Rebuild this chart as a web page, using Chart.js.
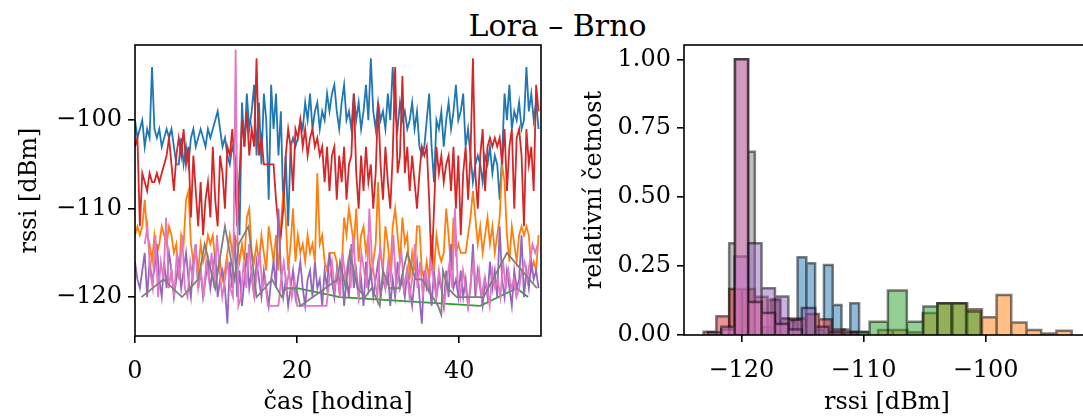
<!DOCTYPE html>
<html>
<head>
<meta charset="utf-8">
<script src="https://cdn.jsdelivr.net/npm/chart.js@4.4.0/dist/chart.umd.min.js"></script>
<style>
  html, body { margin: 0; padding: 0; background: #fff; overflow: hidden; }
  #wrap { position: relative; width: 1083px; height: 418px; overflow: hidden; }
  #title { position: absolute; left: 0; width: 1115px; top: 8px; text-align: center;
           font-family: 'DejaVu Serif', serif; font-size: 30px; color: #000; }
  canvas { position: absolute; top: 0; }
  #timeChart { left: 0; }
  #histChart { left: 570px; }
</style>
</head>
<body>
<div id="wrap">
  <div id="title">Lora – Brno</div>
  <canvas id="timeChart" width="570" height="418"></canvas>
  <canvas id="histChart" width="540" height="418"></canvas>
</div>
<script>
// time series, sampled every STEP hours
const STEP = 0.3;
const blueRssi = [
  -100,-102,-101,-100,-103,-101,-102,-94,-101,-102,-101,-103,-102,-101,-102,-101,-103,
  -105,-105,-102,-105,-103,-105,-102,-101,-103,-102,-101,-102,-103,-101,-102,-101,
  -100,-99,-101,-103,-102,-104,-105,-103,-104,-106,-113,-98,-103,-97,-101,-99,-96,-104,
  -98,-105,-97,-100,-109,-96,-101,-97,-104,-99,-110,-104,-112,-103,-102,-103,-102,-100,-101,-98,
  -100,-97,-101,-99,-98,-101,-99,-100,-97,-99,-97,-96,-99,-101,-98,-96,-100,-99,-101,-97,
  -100,-98,-101,-99,-96,-100,-93,-99,-101,-98,-100,-99,-101,-97,-100,-94,-99,-101,-98,-100,
  -99,-101,-100,-98,-101,-99,-103,-104,-103,-100,-97,-103,-107,-100,-101,-99,-103,-100,-98,-101,
  -99,-96,-100,-99,-97,-103,-101,-104,-107,-105,-104,-105,-107,-104,-105,-103,-106,-104,-105,-109,
  -104,-97,-100,-96,-101,-99,-100,-98,-101,-100,-94,-99,-97,-100,-98,-101
];
const orangeRssi = [
  -113,-112,-113,-112,-109,-113,-114,-116,-113,-115,-114,-112,-113,-114,-112,-113,-115,-114,-118,-113,
  -114,-109,-108,-114,-116,-115,-117,-114,-116,-115,-113,-114,-113,-116,-117,-116,-118,-117,-115,-113,
  -115,-113,-114,-116,-114,-116,-111,-110,-115,-116,-114,-116,-113,-115,-117,-112,-114,-116,-113,-117,
  -112,-108,-111,-117,-114,-110,-116,-113,-115,-114,-116,-113,-115,-114,-116,-106,-114,-113,-116,-117,
  -115,-115,-115,-116,-119,-117,-111,-113,-110,-112,-114,-110,-116,-113,-112,-115,-113,-118,-116,-114,
  -107,-115,-117,-112,-114,-117,-112,-110,-113,-116,-111,-114,-113,-118,-115,-117,-112,-112,-117,-118,
  -116,-118,-113,-117,-113,-115,-116,-115,-110,-113,-117,-111,-115,-114,-115,-115,-115,-113,-111,-108,
  -111,-114,-112,-115,-113,-111,-114,-112,-115,-113,-111,-105,-107,-113,-116,-112,-114,-116,-113,-112,
  -113,-112,-113,-117,-116,-117,-113
];
const redRssi = [
  -103,-102,-112,-106,-107,-108,-106,-107,-107,-106,-107,-106,-105,-104,-102,-105,-108,-104,-102,-104,
  -101,-105,-103,-111,-104,-108,-112,-107,-113,-109,-107,-111,-103,-109,-112,-104,-106,-110,-103,-104,
  -101,-105,-112,-106,-100,-103,-99,-104,-101,-103,-93,-104,-102,-105,-105,-105,-105,-105,-109,-112,
  -113,-110,-104,-101,-103,-108,-101,-102,-100,-103,-101,-104,-102,-101,-103,-102,-104,-103,-107,-103,
  -108,-104,-103,-109,-104,-107,-103,-109,-105,-104,-97,-106,-110,-104,-108,-103,-107,-105,-110,-106,
  -98,-105,-109,-103,-107,-110,-104,-94,-106,-104,-95,-106,-103,-108,-104,-107,-110,-106,-103,-104,
  -103,-109,-117,-110,-103,-106,-104,-107,-105,-104,-108,-103,-110,-104,-113,-106,-103,-109,-104,-93,
  -106,-110,-104,-101,-108,-103,-102,-103,-102,-103,-102,-105,-101,-108,-103,-101,-110,-102,-101,-104,
  -112,-101,-105,-103,-108,-96,-99
];
const purpleRssi = [
  -116,-118,-119,-117,-115,-120,-116,-118,-117,-114,-118,-120,-116,-119,-115,-117,-120,-118,-116,-119,
  -117,-115,-118,-120,-116,-114,-119,-117,-120,-118,-116,-119,-117,-115,-120,-118,-117,-119,-123,-116,
  -119,-113,-120,-117,-121,-118,-115,-119,-117,-120,-116,-118,-120,-117,-119,-121,-118,-116,-119,-110,
  -117,-120,-118,-121,-119,-117,-120,-118,-116,-119,-121,-118,-117,-120,-116,-119,-118,-121,-117,-119,
  -115,-118,-120,-117,-119,-116,-121,-118,-120,-114,-119,-117,-120,-118,-121,-116,-119,-117,-120,-118,
  -116,-120,-118,-119,-117,-121,-118,-120,-116,-119,-118,-120,-117,-119,-121,-118,-116,-120,-123,-117,
  -119,-118,-121,-117,-120,-118,-119,-121,-117,-120,-114,-119,-118,-120,-117,-120,-118,-121,-119,-114,
  -120,-117,-119,-121,-118,-120,-116,-119,-117,-120,-112,-118,-120,-117,-119,-121,-117,-119,-118,-113,
  -120,-117,-119,-116,-118,-117,-119
];
// pink starts at 1.2 h, sampled every 0.33 h
const PINK_START = 1.2, PINK_STEP = 0.33;
const pinkRssi = [
  -114,-112,-117,-119,-113,-120,-116,-118,-111,-119,-117,-120,-115,-118,-113,-119,-120,-116,-118,-114,
  -119,-117,-120,-116,-118,-115,-119,-113,-117,-120,-118,-116,-119,-120,-92,-121,
  -120,-116,-119,-114,-118,-120,-117,-115,-119,-118,-121,-121,-121,-121,-121,-118,-116,-119,-117,-120,
  -118,-121,-121,-121,-121,-121,-121,-121,-121,-121,-121,-121,-121,-118,-116,-119,-117,-120,-115,-118,
  -116,-119,-113,-118,-120,-115,-117,-119,-110,-116,-118,-120,-114,-117,-119,-116,-118,-113,-119,-117,
  -115,-119,-117,-120,-118,-114,-119,-116,-120,-117,-119,-116,-118,-120,-117,-119,-121,-118,-116,-119,
  -110,-118,-120,-117,-119,-121,-118,-116,-119,-117,-120,-118,-119,-121,-117,-119,-118,-120,-116,-119,
  -117,-119,-118,-120,-119,-117,-116,-118,-116,-114,-115,-114
];
const grayTime = [0.8,3.5,5.8,7.8,8.6,9.9,11.1,12.3,12.8,14.0,15.0,16.0,16.9,18.1,18.6,19.9,20.4,25.0,25.3,26.0,
  26.5,27.5,28.4,29.2,30.2,30.6,31.4,32.6,33.6,34.6,35.4,37.4,37.8,38.0,38.6,39.7,43.0,45.9,49.6];
const grayRssi = [-120,-118,-120,-118,-114,-119,-112,-118,-114,-112,-120,-119,-118,-120,-119,-119,-121,-118,-116,-119,
  -115,-119,-120,-119,-121,-117,-119,-119,-115,-118,-118,-121,-122,-117,-119,-120,-120,-115,-119];
const greenTime = [20.0, 25.3, 42.6, 47.1, 48.5];
const greenRssi = [-119, -120, -121, -119, -120];

// histograms: bin edges [dBm] and relative heights
const blueEdges = [-118.28,-117.56,-116.84,-116.12,-115.4,-114.68,-113.96,-113.24,-112.52,-111.8,-111.08,-110.36,-109.64];
const blueHeights = [0.03,0.13,0.06,0.05,0.282,0.26,0.02,0.254,0.109,0.02,0.115,0.01];
const orangeEdges = [-108.8,-107.6,-106.4,-105.15,-103.95,-102.7,-101.5,-100.3,-99.1,-97.9,-96.65,-95.45,-94.2,-92.95];
const orangeHeights = [0.018,0.018,0.01,0.08,0.115,0.115,0.093,0.064,0.145,0.045,0.018,0.005,0.015];
const greenEdges = [-111.0,-109.5,-108.0,-106.45,-105.1,-103.95,-102.8,-101.6,-100.4];
const greenHeights = [0.012,0.048,0.161,0.048,0.103,0.115,0.115,0.085];
const redEdges = [-123.1,-122.05,-121.0,-119.95,-118.9,-117.85,-116.8,-115.75,-114.7,-113.65,-112.6,-111.55,-110.5];
const redHeights = [0.012,0.068,0.167,0.167,0.139,0.127,0.06,0.06,0.076,0.057,0.02,0.01];
const purpleEdges = [-122.75,-121.65,-120.55,-119.45,-118.35,-117.25,-116.15,-115.05,-113.95,-112.85,-111.75];
const purpleHeights = [0.01,0.02,0.285,0.333,0.17,0.14,0.055,0.098,0.03,0.01];
const pinkEdges = [-121.65,-120.55,-119.45,-118.35,-117.25,-116.15,-115.05];
const pinkHeights = [0.03,1.0,0.12,0.08,0.04,0.02];
const grayEdges = [-121.0,-120.5,-119.45,-118.9];
const grayHeights = [0.333,1.0,0.665];

const timeTicks = [0, 20, 40];
const rssiTicks = [-120, -110, -100];
const freqTicks = [0, 0.25, 0.5, 0.75, 1.0];

const colors = {
  blue: '#1f77b4', orange: '#ff7f0e', green: '#2ca02c', red: '#d62728',
  purple: '#9467bd', pink: '#e377c2', gray: '#7f7f7f'
};

Chart.defaults.font.family = "'DejaVu Serif', serif";
Chart.defaults.font.size = 24;
Chart.defaults.color = '#000';

function regular(values, start, step) {
  return values.map((v, i) => ({ x: start + i * step, y: v }));
}
function paired(times, values) {
  return times.map((t, i) => ({ x: t, y: values[i] }));
}
// outline of each bin: left edge up, top, right edge down
function bins(edges, heights) {
  const pts = [];
  heights.forEach((h, i) => {
    pts.push({ x: edges[i], y: 0 }, { x: edges[i], y: h }, { x: edges[i + 1], y: h }, { x: edges[i + 1], y: 0 });
  });
  return pts;
}
function rgba(hex, a) {
  const n = parseInt(hex.slice(1), 16);
  return `rgba(${n >> 16},${(n >> 8) & 255},${n & 255},${a})`;
}
const minus = v => String(v).replace('-', '\u2212');

const framePlugin = {
  id: 'frame',
  afterDatasetsDraw(chart) {
    const { ctx, chartArea: a } = chart;
    ctx.save();
    ctx.strokeStyle = '#000';
    ctx.lineWidth = 1.6;
    ctx.strokeRect(a.left, a.top, a.right - a.left, a.bottom - a.top);
    ctx.restore();
  }
};

function axis(min, max, ticks, fmt, title, pad, size, tickPad) {
  return {
    type: 'linear', min, max,
    afterBuildTicks: s => { s.ticks = ticks.map(v => ({ value: v })); },
    afterFit: s => { if (s.isHorizontal()) s.height = size; else s.width = size; },
    ticks: { callback: fmt, padding: tickPad },
    grid: { drawOnChartArea: false, drawTicks: true, tickLength: 7, color: '#000', lineWidth: 1.6 },
    border: { display: false },
    title: { display: true, text: title, padding: pad }
  };
}

const lineSets = [
  ['blue', regular(blueRssi, 0, STEP)],
  ['orange', regular(orangeRssi, 0, STEP)],
  ['green', paired(greenTime, greenRssi)],
  ['red', regular(redRssi, 0, STEP)],
  ['purple', regular(purpleRssi, 0, STEP)],
  ['pink', regular(pinkRssi, PINK_START, PINK_STEP)],
  ['gray', paired(grayTime, grayRssi)]
];

new Chart(document.getElementById('timeChart'), {
  type: 'scatter',
  data: {
    datasets: lineSets.map(([c, d], i) => ({
      data: d, showLine: true, pointRadius: 0, borderColor: colors[c],
      borderWidth: 1.8, tension: 0, order: 10 - i
    }))
  },
  options: {
    responsive: false, animation: false, devicePixelRatio: 1,
    layout: { padding: { top: 45, right: 29, left: 0, bottom: 0 } },
    plugins: { legend: { display: false }, tooltip: { enabled: false } },
    scales: {
      x: axis(0, 50.1, timeTicks, minus, 'čas [hodina]', { top: 0, bottom: 1 }, 82, 14),
      y: axis(-124.4, -91.5, rssiTicks, minus, 'rssi [dBm]', { top: 15, bottom: 0 }, 135, 6)
    }
  },
  plugins: [framePlugin]
});

// gray first so it sits underneath the other histograms
const histSets = [
  ['gray', grayEdges, grayHeights],
  ['blue', blueEdges, blueHeights],
  ['orange', orangeEdges, orangeHeights],
  ['green', greenEdges, greenHeights],
  ['red', redEdges, redHeights],
  ['purple', purpleEdges, purpleHeights],
  ['pink', pinkEdges, pinkHeights]
];

new Chart(document.getElementById('histChart'), {
  type: 'scatter',
  data: {
    datasets: histSets.map(([c, e, h], i) => ({
      data: bins(e, h), showLine: true, pointRadius: 0, tension: 0,
      fill: 'origin', backgroundColor: rgba(colors[c], 0.5),
      borderColor: 'rgba(0,0,0,0.5)', borderWidth: 2.5, order: 10 - i
    }))
  },
  options: {
    responsive: false, animation: false, devicePixelRatio: 1,
    layout: { padding: { top: 45, right: 20, left: 0, bottom: 0 } },
    plugins: { legend: { display: false }, tooltip: { enabled: false } },
    scales: {
      x: axis(-124.7, -91.45, rssiTicks, minus, 'rssi [dBm]', { top: 0, bottom: 1 }, 83, 14),
      y: axis(0, 1.052, freqTicks, v => v.toFixed(2), 'relativní četnost', { top: 10, bottom: 0 }, 114, 6)
    }
  },
  plugins: [framePlugin]
});
</script>
</body>
</html>
